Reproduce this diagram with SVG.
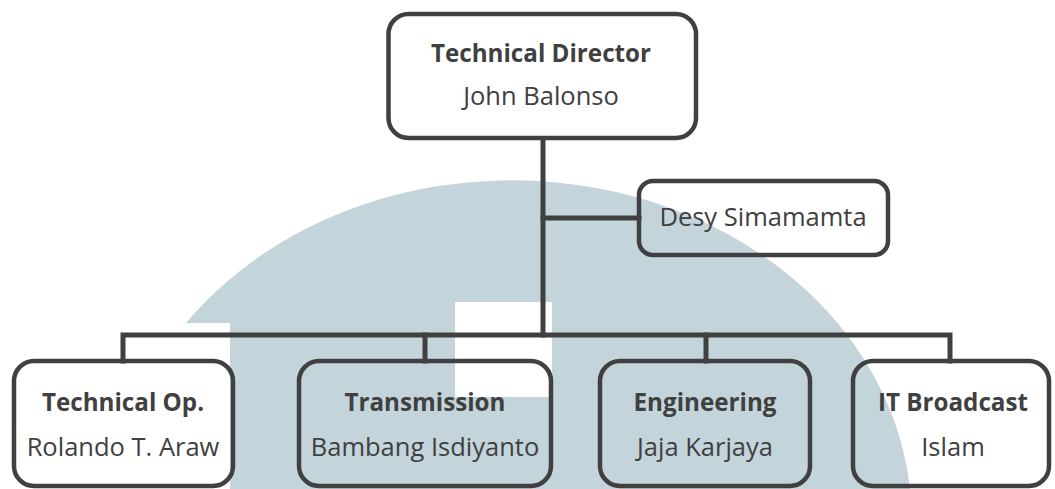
<svg xmlns="http://www.w3.org/2000/svg" width="1055" height="489" viewBox="0 0 1055 489">
<style>
.box{fill:none;stroke:#404040;stroke-width:4.5}
.con{fill:none;stroke:#404040;stroke-width:5;stroke-linecap:square}
text{font-family:"Open Sans","Noto Sans",sans-serif;font-size:25.5px;fill:#404040;text-anchor:middle}
.t{font-weight:bold;font-size:24.2px}
</style>
<rect width="1055" height="489" fill="#ffffff"/>
<g id="watermark">
<path d="M186 323 A400 340 0 0 1 910 489 L230 489 L230 323 Z" fill="#c3d4db"/>
<rect x="455" y="302" width="97" height="95" fill="#ffffff"/>
</g>
<g id="connectors">
<path class="con" d="M543 140 V335"/>
<path class="con" d="M543 218 H639"/>
<path class="con" d="M123 361 V335 H950 V361"/>
<path class="con" d="M425 335 V361"/>
<path class="con" d="M706 335 V361"/>
</g>
<g id="director">
<rect class="box" x="388.5" y="14" width="307.5" height="124" rx="20"/>
<text class="t" x="541" y="62">Technical Director</text>
<text x="541" y="105">John Balonso</text>
</g>
<g id="secretary">
<rect class="box" x="639" y="181" width="249" height="74" rx="14"/>
<text x="763" y="226">Desy Simamamta</text>
</g>
<g id="techop">
<rect class="box" x="14" y="361" width="219" height="125" rx="20"/>
<text class="t" x="123" y="411">Technical Op.</text>
<text x="123" y="456">Rolando T. Araw</text>
</g>
<g id="transmission">
<rect class="box" x="299" y="361" width="252" height="125" rx="20"/>
<text class="t" x="425" y="411">Transmission</text>
<text x="425" y="456">Bambang Isdiyanto</text>
</g>
<g id="engineering">
<rect class="box" x="600" y="361" width="210" height="125" rx="20"/>
<text class="t" x="705" y="411">Engineering</text>
<text x="705" y="456">Jaja Karjaya</text>
</g>
<g id="itbroadcast">
<rect class="box" x="853" y="361" width="196" height="125" rx="20"/>
<text class="t" x="953" y="411">IT Broadcast</text>
<text x="953" y="456">Islam</text>
</g>
</svg>
